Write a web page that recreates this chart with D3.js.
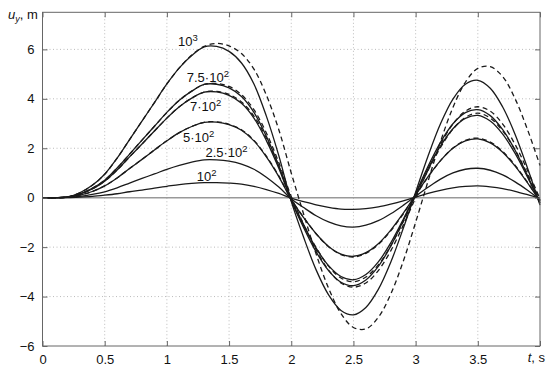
<!DOCTYPE html>
<html><head><meta charset="utf-8">
<script src="https://cdn.jsdelivr.net/npm/d3@7"></script>
<style>body{margin:0;background:#fff}svg{display:block}text{font-family:"Liberation Sans",Arial,Helvetica,sans-serif;fill:#111}</style>
</head><body><svg id="c" width="550" height="375"></svg>
<script>
// sample times (s)
const times = [0,0.1,0.2,0.3,0.4,0.5,0.6,0.7,0.8,0.9,1.0,1.1,1.2,1.3,1.4,1.5,1.6,1.7,1.8,1.9,2.0,2.1,2.2,2.3,2.4,2.5,2.6,2.7,2.8,2.9,3.0,3.1,3.2,3.3,3.4,3.5,3.6,3.7,3.8,3.9,4.0];
// solid curves u_y (m)
const solid1000 = [0,0,0.03,0.2,0.5,0.95,1.6,2.35,3.1,3.85,4.6,5.25,5.75,6.1,6.12,5.92,5.45,4.6,3.3,1.7,-0.15,-1.61,-2.92,-3.93,-4.56,-4.74,-4.44,-3.71,-2.61,-1.25,0.22,1.69,2.99,3.99,4.59,4.75,4.43,3.67,2.56,1.19,-0.30];
const solid750 = [0,0,0.02,0.15,0.38,0.71,1.2,1.76,2.33,2.89,3.45,3.94,4.31,4.58,4.59,4.44,4.09,3.45,2.48,1.28,-0.11,-1.21,-2.19,-2.95,-3.42,-3.56,-3.33,-2.78,-1.96,-0.94,0.17,1.27,2.24,2.99,3.44,3.56,3.32,2.75,1.92,0.89,-0.23];
const solid700 = [0,0,0.02,0.14,0.35,0.67,1.12,1.65,2.17,2.7,3.22,3.68,4.03,4.27,4.28,4.14,3.82,3.22,2.31,1.19,-0.11,-1.13,-2.04,-2.75,-3.19,-3.32,-3.11,-2.6,-1.83,-0.88,0.15,1.18,2.09,2.79,3.21,3.33,3.1,2.57,1.79,0.83,-0.21];
const solid500 = [0,0,0.02,0.1,0.25,0.48,0.8,1.18,1.55,1.93,2.3,2.63,2.88,3.05,3.06,2.96,2.73,2.3,1.65,0.85,-0.08,-0.81,-1.46,-1.97,-2.28,-2.37,-2.22,-1.86,-1.31,-0.63,0.11,0.85,1.5,2.0,2.3,2.38,2.22,1.84,1.28,0.6,-0.15];
const solid250 = [0,0,0.01,0.05,0.13,0.24,0.4,0.59,0.78,0.96,1.15,1.31,1.44,1.53,1.53,1.48,1.36,1.15,0.83,0.43,-0.04,-0.4,-0.73,-0.98,-1.14,-1.19,-1.11,-0.93,-0.65,-0.31,0.06,0.42,0.75,1.0,1.15,1.19,1.11,0.92,0.64,0.3,-0.08];
const solid100 = [0,0,0,0.02,0.05,0.1,0.16,0.24,0.31,0.39,0.46,0.53,0.58,0.61,0.61,0.59,0.55,0.46,0.33,0.17,-0.02,-0.16,-0.29,-0.39,-0.46,-0.47,-0.44,-0.37,-0.26,-0.13,0.02,0.17,0.3,0.4,0.46,0.48,0.44,0.37,0.26,0.12,-0.03];
// dashed curves u_y (m)
const dashed1000 = [0,0,0.03,0.2,0.5,0.95,1.6,2.35,3.1,3.85,4.6,5.25,5.77,6.12,6.24,6.14,5.83,5.2,4.15,2.75,1.0,-0.67,-2.28,-3.66,-4.69,-5.25,-5.31,-4.84,-3.9,-2.58,-1.0,0.67,2.27,3.65,4.67,5.23,5.3,4.9,4.0,2.75,1.3];
const dashed750 = [0,0,0.02,0.15,0.38,0.71,1.2,1.76,2.33,2.89,3.45,3.94,4.31,4.58,4.62,4.5,4.17,3.56,2.62,1.42,0.05,-1.08,-2.1,-2.93,-3.45,-3.62,-3.45,-2.95,-2.15,-1.12,0.0,1.12,2.15,2.98,3.5,3.68,3.5,2.98,2.15,1.1,-0.05];
const dashed700 = [0,0,0.02,0.14,0.35,0.67,1.12,1.65,2.17,2.7,3.22,3.68,4.03,4.27,4.3,4.18,3.87,3.3,2.4,1.28,-0.03,-1.09,-2.02,-2.77,-3.25,-3.4,-3.21,-2.72,-1.95,-0.98,0.08,1.1,2.03,2.77,3.25,3.42,3.22,2.7,1.93,0.95,-0.1];
const dashed500 = [0,0,0.02,0.1,0.25,0.48,0.8,1.18,1.55,1.93,2.3,2.63,2.88,3.05,3.07,2.97,2.75,2.32,1.68,0.88,-0.06,-0.8,-1.46,-1.98,-2.3,-2.4,-2.25,-1.89,-1.34,-0.66,0.09,0.84,1.5,2.01,2.32,2.41,2.25,1.87,1.31,0.62,-0.13];

const xTicks = [0,0.5,1,1.5,2,2.5,3,3.5,4];
const xTickLabels = ["0","0.5","1","1.5","2","2.5","3","3.5",""];
const yTicks = [-6,-4,-2,0,2,4,6];
const yTickLabels = ["\u22126","\u22124","\u22122","0","2","4","6"];

const solidSeries = [solid1000, solid750, solid700, solid500, solid250, solid100];
const dashedSeries = [dashed1000, dashed750, dashed700, dashed500];

const L = 42.5, R = 540, T = 12.3, B = 346;
const svg = d3.select("#c");
const x = d3.scaleLinear().domain([0, 4]).range([L, R]);
const y = d3.scaleLinear().domain([-6, 7.5]).range([B, T]);

// grid
const g = svg.append("g");
g.selectAll(".gx").data(xTicks.filter(v => v > 0 && v < 4)).enter().append("line")
  .attr("x1", d => x(d)).attr("x2", d => x(d)).attr("y1", T).attr("y2", B)
  .attr("stroke", "#bbb").attr("stroke-width", 1).attr("stroke-dasharray", "1,2.5");
g.selectAll(".gy").data(yTicks.filter(v => v !== 0 && v > -6)).enter().append("line")
  .attr("y1", d => y(d)).attr("y2", d => y(d)).attr("x1", L).attr("x2", R)
  .attr("stroke", "#bbb").attr("stroke-width", 1).attr("stroke-dasharray", "1,2.5");
// zero line
g.append("line").attr("x1", L).attr("x2", R).attr("y1", y(0)).attr("y2", y(0))
  .attr("stroke", "#999").attr("stroke-width", 1.6);

// curves
const line = d3.line().x((d, i) => x(times[i])).y(d => y(d)).curve(d3.curveCatmullRom.alpha(0.5));
svg.append("g").selectAll("path").data(solidSeries).enter().append("path")
  .attr("d", line).attr("fill", "none").attr("stroke", "#1a1a1a").attr("stroke-width", 1.3);
svg.append("g").selectAll("path").data(dashedSeries).enter().append("path")
  .attr("d", line).attr("fill", "none").attr("stroke", "#1a1a1a").attr("stroke-width", 1.3)
  .attr("stroke-dasharray", "5,3.5");

// box
svg.append("rect").attr("x", L).attr("y", T).attr("width", R - L).attr("height", B - T)
  .attr("fill", "none").attr("stroke", "#666").attr("stroke-width", 1);

// axes with inward ticks
const axB = d3.axisBottom(x).tickValues(xTicks).tickSize(-5).tickPadding(9).tickFormat((d, i) => xTickLabels[i]);
const axT = d3.axisTop(x).tickValues(xTicks).tickSize(-5).tickFormat("");
const axL = d3.axisLeft(y).tickValues(yTicks).tickSize(-5).tickPadding(8).tickFormat((d, i) => yTickLabels[i]);
const axR = d3.axisRight(y).tickValues(yTicks).tickSize(-5).tickFormat("");
function style(sel) {
  sel.select(".domain").remove();
  sel.selectAll(".tick line").attr("stroke", "#666");
  sel.selectAll(".tick text").attr("font-size", 13).attr("fill", "#111")
     .style("font-family", "'Liberation Sans', Arial, sans-serif");
}
svg.append("g").attr("transform", `translate(0,${B})`).call(axB).call(style);
svg.append("g").attr("transform", `translate(0,${T})`).call(axT).call(style);
svg.append("g").attr("transform", `translate(${L},0)`).call(axL).call(style);
svg.append("g").attr("transform", `translate(${R},0)`).call(axR).call(style);

// axis titles
const yt = svg.append("text").attr("x", 8).attr("y", 19).attr("font-size", 13);
yt.append("tspan").attr("font-style", "italic").text("u");
yt.append("tspan").attr("font-style", "italic").attr("font-size", 9).attr("dy", 3).text("y");
yt.append("tspan").attr("dy", -3).text(", m");
const xt = svg.append("text").attr("x", 545).attr("y", B + 16).attr("font-size", 13).attr("text-anchor", "end");
xt.append("tspan").attr("font-style", "italic").text("t");
xt.append("tspan").text(", s");

// curve labels
const labels = [
  {t: 1.09, u: 6.13, base: "10", pre: ""},
  {t: 1.16, u: 4.68, base: "10", pre: "7.5\u00b7"},
  {t: 1.186, u: 3.5, base: "10", pre: "7\u00b7"},
  {t: 1.13, u: 2.25, base: "10", pre: "5\u00b7"},
  {t: 1.31, u: 1.65, base: "10", pre: "2.5\u00b7"},
  {t: 1.24, u: 0.68, base: "10", pre: ""}
];
const exps = ["3", "2", "2", "2", "2", "2"];
labels.forEach((d, i) => {
  const tx = svg.append("text").attr("x", x(d.t)).attr("y", y(d.u)).attr("font-size", 13);
  tx.append("tspan").text(d.pre + d.base);
  tx.append("tspan").attr("font-size", 9.5).attr("dy", -5).text(exps[i]);
});
</script></body></html>
